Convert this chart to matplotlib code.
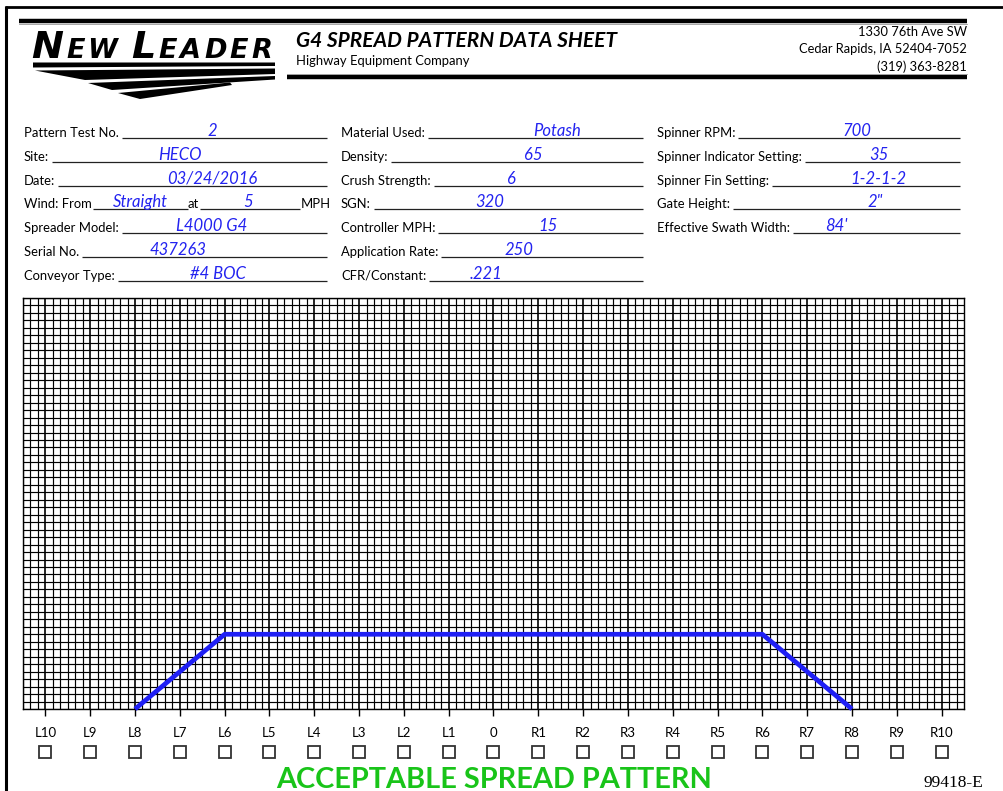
import numpy as np
import matplotlib.pyplot as plt
from matplotlib.patches import Polygon

W, H = 1004, 791

# collection pans across the swath
STATIONS = ['L10', 'L9', 'L8', 'L7', 'L6', 'L5', 'L4', 'L3', 'L2', 'L1', '0',
            'R1', 'R2', 'R3', 'R4', 'R5', 'R6', 'R7', 'R8', 'R9', 'R10']
# hand drawn pattern outline (height in grid squares)
PATTERN_STATIONS = ['L8', 'L6', 'R6', 'R8']
PATTERN_HEIGHT = [0, 10, 10, 0]
GRID_ROWS = 55
CELLS_PER_STATION = 6

# form fields
COL1_LABELS = ['Pattern Test No.', 'Site:', 'Date:', 'Wind: From',
               'Spreader Model:', 'Serial No.', 'Conveyor Type:']
COL1_VALUES = ['2', 'HECO', '03/24/2016', 'Straight',
               'L4000 G4', '437263', '#4 BOC']
WIND_SPEED = '5'
COL2_LABELS = ['Material Used:', 'Density:', 'Crush Strength:', 'SGN:',
               'Controller MPH:', 'Application Rate:', 'CFR/Constant:']
COL2_VALUES = ['Potash', '65', '6', '320', '15', '250', '.221']
COL3_LABELS = ['Spinner RPM:', 'Spinner Indicator Setting:',
               'Spinner Fin Setting:', 'Gate Height:', 'Effective Swath Width:']
COL3_VALUES = ['700', '35', '1-2-1-2', '2"', "84'"]

ADDRESS = ['1330 76th Ave SW', 'Cedar Rapids, IA 52404-7052', '(319) 363-8281']

LABEL_FONT = ['Lato', 'DejaVu Sans']
HAND_FONT = ['Lato', 'DejaVu Sans']
INK = '#2323f0'

fig = plt.figure(figsize=(W / 100, H / 100), dpi=100)
bg = fig.add_axes([0, 0, 1, 1])
bg.set_xlim(0, W)
bg.set_ylim(H, 0)
bg.axis('off')
renderer = fig.canvas.get_renderer()

# page frame and header rules
bg.plot([5.5, W], [7, 7], color='black', lw=2, solid_capstyle='butt')
bg.plot([6, 6], [6, H], color='black', lw=2.2, solid_capstyle='butt')
bg.plot([19, 967], [20.5, 20.5], color='black', lw=3.2, solid_capstyle='butt')
bg.plot([19, 967], [24, 24], color='#999999', lw=0.6)
bg.plot([287, 967], [77, 77], color='black', lw=3.2, solid_capstyle='butt')
bg.plot([287, 967], [73.5, 73.5], color='#999999', lw=0.6)

# logo lettering, spaced out letter by letter
x = 31
for word in ['NEW', 'LEADER']:
    for k, ch in enumerate(word):
        size = 27.5 if k == 0 else 19.5
        t = bg.text(x, 58, ch, fontsize=size, family='DejaVu Sans', weight='bold',
                    style='italic', va='baseline', ha='left')
        x = t.get_window_extent(renderer).x1 + 3
    x += 11

# logo swoosh stripes, fanning out to the left
swoosh = [
    [(33, 62.5), (275, 62.5), (275, 66), (33, 67.5)],
    [(35, 70.5), (275, 68.5), (275, 74), (85, 80)],
    [(88, 83), (275, 76), (275, 79.5), (112, 90)],
    [(118, 93), (230, 82.5), (232, 85), (140, 99)],
]
for pts in swoosh:
    bg.add_patch(Polygon(pts, closed=True, color='black', lw=0))

bg.text(296, 47, 'G4 SPREAD PATTERN DATA SHEET', fontsize=15, family=LABEL_FONT,
        weight='bold', style='italic', va='baseline')
bg.text(296, 65, 'Highway Equipment Company', fontsize=9.4, family=LABEL_FONT,
        va='baseline')
for i, line in enumerate(ADDRESS):
    bg.text(967, 36 + i * 17.3, line, fontsize=9.3, family=LABEL_FONT,
            va='baseline', ha='right')

ROW0, ROW_STEP = 138, 23.8
FS = 9.4


def label(x, y, text):
    t = bg.text(x, y - 1, text, fontsize=FS, family=LABEL_FONT, va='baseline')
    return t.get_window_extent(renderer).x1


def rule(x0, x1, y):
    bg.plot([x0, x1], [y, y], color='#222222', lw=0.9, solid_capstyle='butt')


def hand(x, y, text):
    bg.text(x, y - 2, text, fontsize=12, family=HAND_FONT, style='italic',
            color=INK, va='baseline', ha='center')


def column(x, end, labels, values, centers, skip=None):
    for i, (lab, val, cx) in enumerate(zip(labels, values, centers)):
        if i == skip:
            continue
        y = ROW0 + i * ROW_STEP
        x1 = label(x, y, lab)
        rule(x1 + 3, end, y)
        hand(cx, y, val)


column(24, 327, COL1_LABELS, COL1_VALUES,
       [212, 180, 212, 140, 212, 178, 218], skip=3)
# wind row has two blanks
y = ROW0 + 3 * ROW_STEP
x1 = label(24, y, COL1_LABELS[3])
rule(x1 + 1, 188, y)
hand(140, y, COL1_VALUES[3])
x1 = label(188, y, 'at')
rule(x1 + 1, 300, y)
hand(248, y, WIND_SPEED)
label(301, y, 'MPH')

column(341, 643, COL2_LABELS, COL2_VALUES, [557, 533, 511, 490, 548, 519, 486])
column(657, 960, COL3_LABELS, COL3_VALUES, [857, 879, 878, 875, 836])

# pattern grid
gx0, gy0, gx1, gy1 = 23, 298, 964, 709
ax = fig.add_axes([gx0 / W, 1 - gy1 / H, (gx1 - gx0) / W, (gy1 - gy0) / H])
pos = np.arange(len(STATIONS)) - len(STATIONS) // 2
half = len(STATIONS) / 2
ax.set_xlim(-half, half)
ax.set_ylim(0, GRID_ROWS)
ax.set_xticks(pos, STATIONS, fontsize=9.5, family=LABEL_FONT)
ax.set_xticks(np.arange(-half, half, 1 / CELLS_PER_STATION), minor=True)
ax.set_yticks([])
ax.set_yticks(np.arange(GRID_ROWS + 1), minor=True)
ax.tick_params(axis='x', which='major', length=5, width=1, pad=8, color='black')
ax.tick_params(which='minor', length=0)
ax.grid(which='minor', color='black', lw=0.85)
ax.grid(which='major', axis='x', color='black', lw=1.2)
ax.set_axisbelow(True)
for s in ax.spines.values():
    s.set_linewidth(1)

pattern_x = [STATIONS.index(s) - len(STATIONS) // 2 for s in PATTERN_STATIONS]
ax.plot(pattern_x, PATTERN_HEIGHT, color='#1f1ff5', lw=3.4, clip_on=False,
        solid_capstyle='butt', zorder=5)

# tick boxes under each station
ax.plot(pos, np.full(len(pos), -(752 - gy1) / (gy1 - gy0)), 's', ms=9.2,
        mfc='white', mec='#333333', mew=1.3, transform=ax.get_xaxis_transform(),
        clip_on=False)

bg.text(494, 788, 'ACCEPTABLE SPREAD PATTERN', fontsize=20.8, family=LABEL_FONT,
        weight='bold', color='#19c419', ha='center', va='baseline')
bg.text(983, 787, '99418-E', fontsize=12.5, family='Liberation Serif',
        ha='right', va='baseline')

fig.savefig('out.png', dpi=100)
